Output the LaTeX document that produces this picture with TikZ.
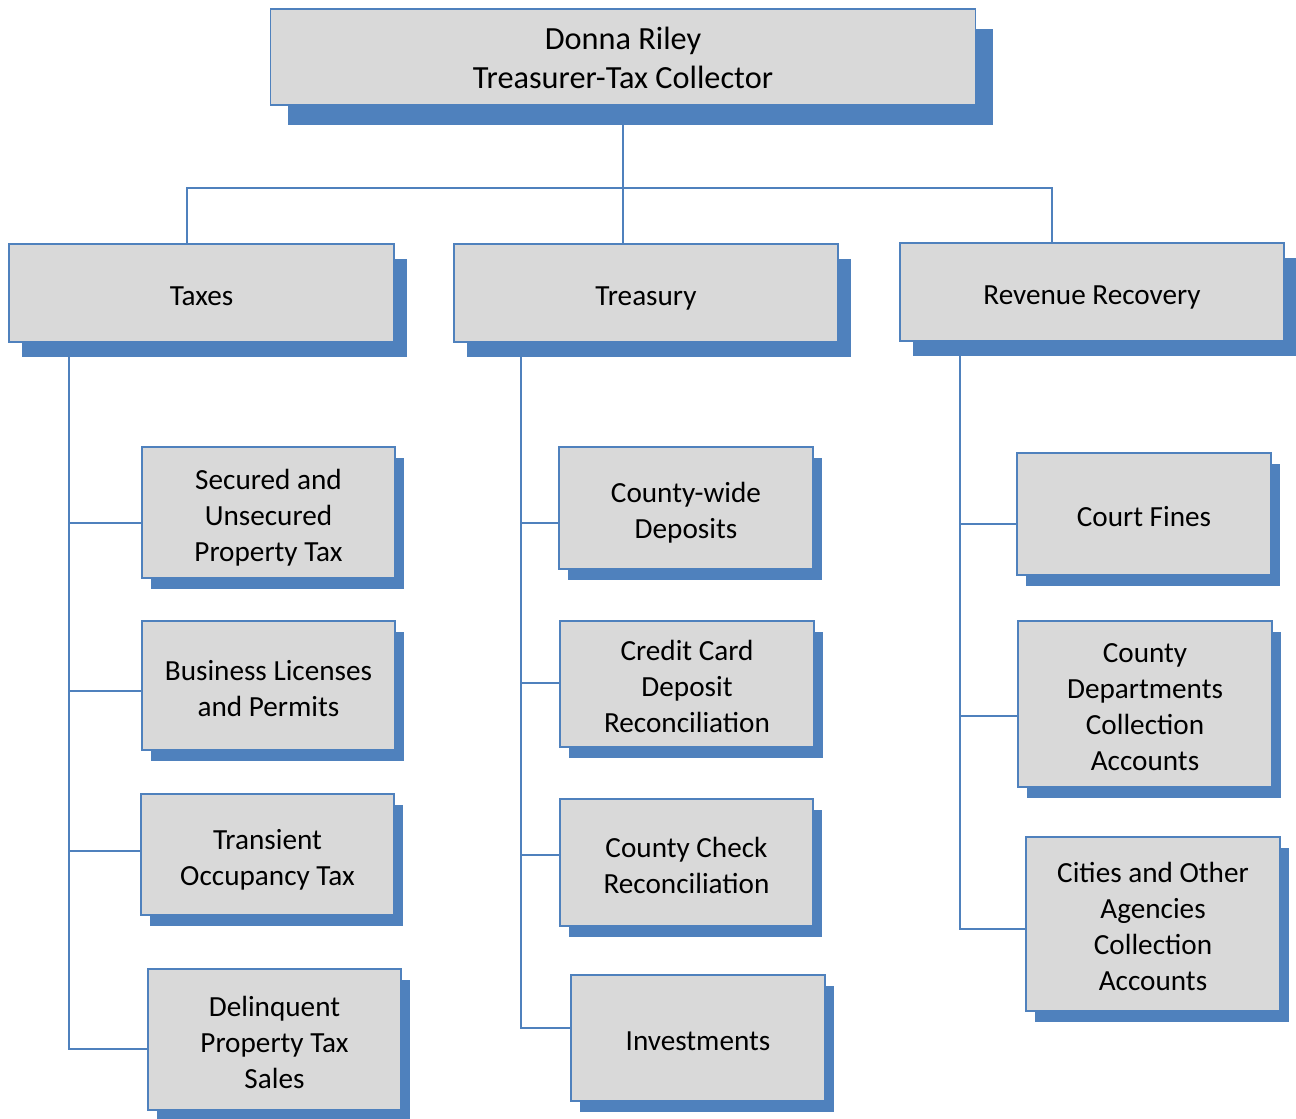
\documentclass[tikz,border=0pt]{standalone}
\usepackage{fontspec}
\setmainfont{Carlito}
\usetikzlibrary{shadows}
\definecolor{boxblue}{HTML}{4F81BD}
\definecolor{boxgray}{HTML}{D9D9D9}
\newcommand\tstr{\rule{0pt}{33pt}}
\newcommand\ttstr{\rule{0pt}{31pt}}
\newcommand\bstr{\rule[-8pt]{0pt}{8pt}}
\begin{document}
\begin{tikzpicture}[x=1pt,y=-1pt,
  conn/.style={draw=boxblue,line width=1.6pt},
  box/.style={draw=boxblue,fill=boxgray,line width=1.3pt,inner sep=0pt,align=center,
    font=\fontsize{29.2}{36}\selectfont},
  topbox/.style={box,font=\fontsize{32.3}{39}\selectfont,
    general shadow={fill=boxblue,shadow xshift=17.5pt,shadow yshift=-20pt}},
  midbox/.style={box,general shadow={fill=boxblue,shadow xshift=12.5pt,shadow yshift=-14.5pt}},
  leafbox/.style={box,general shadow={fill=boxblue,shadow xshift=9pt,shadow yshift=-11pt}}
]
\useasboundingbox (0,0) rectangle (1296,1119);

% top
\node[topbox,minimum width=705pt,minimum height=96pt] (top) at (623,57) {\ttstr Donna Riley\\Treasurer-Tax Collector\bstr};

% second level
\node[midbox,minimum width=385pt,minimum height=98pt] (taxes) at (201.5,293) {\tstr Taxes\bstr};
\node[midbox,minimum width=384pt,minimum height=98pt] (treas) at (646,293) {\tstr Treasury\bstr};
\node[midbox,minimum width=384pt,minimum height=98pt] (rev) at (1092,292) {\tstr Revenue Recovery\bstr};

% taxes children
\node[leafbox,minimum width=253pt,minimum height=131pt] (t1) at (268.5,512.5) {\tstr Secured and\\Unsecured\\Property Tax\bstr};
\node[leafbox,minimum width=253pt,minimum height=129pt] (t2) at (268.5,685.5) {\tstr Business Licenses\\and Permits\bstr};
\node[leafbox,minimum width=253pt,minimum height=121pt] (t3) at (267.5,854.5) {\tstr Transient\\Occupancy Tax\bstr};
\node[leafbox,minimum width=253pt,minimum height=141pt] (t4) at (274.5,1039.5) {\tstr Delinquent\\Property Tax\\Sales\bstr};

% treasury children
\node[leafbox,minimum width=254pt,minimum height=122pt] (s1) at (686,508) {\tstr County-wide\\Deposits\bstr};
\node[leafbox,minimum width=254pt,minimum height=126pt] (s2) at (687,684) {\tstr Credit Card\\Deposit\\Reconciliation\bstr};
\node[leafbox,minimum width=253pt,minimum height=127pt] (s3) at (686.5,862.5) {\tstr County Check\\Reconciliation\bstr};
\node[leafbox,minimum width=254pt,minimum height=126pt] (s4) at (698,1038) {\tstr Investments\bstr};

% revenue recovery children
\node[leafbox,minimum width=254pt,minimum height=122pt] (v1) at (1144,514) {\tstr Court Fines\bstr};
\node[leafbox,minimum width=254pt,minimum height=166pt] (v2) at (1145,704) {\tstr County\\Departments\\Collection\\Accounts\bstr};
\node[leafbox,minimum width=254pt,minimum height=174pt] (v3) at (1153,924) {\tstr Cities and Other\\Agencies\\Collection\\Accounts\bstr};

% bus from top
\coordinate (busL) at (187,188);
\coordinate (busR) at (1052,188);
\draw[conn] (top.south) -- (top.south |- treas.north);
\draw[conn] (busL |- taxes.north) -- (busL) -- (busR) -- (busR |- rev.north);

% taxes spine
\coordinate (ta1) at (69,523);
\coordinate (ta2) at (69,691);
\coordinate (ta3) at (69,851);
\coordinate (ta4) at (69,1049);
\draw[conn] (ta4 |- taxes.south) -- (ta4) -- (ta4 -| t4.west);
\draw[conn] (ta1) -- (ta1 -| t1.west);
\draw[conn] (ta2) -- (ta2 -| t2.west);
\draw[conn] (ta3) -- (ta3 -| t3.west);

% treasury spine
\coordinate (sa1) at (521,523);
\coordinate (sa2) at (521,683);
\coordinate (sa3) at (521,855);
\coordinate (sa4) at (521,1028);
\draw[conn] (sa4 |- treas.south) -- (sa4) -- (sa4 -| s4.west);
\draw[conn] (sa1) -- (sa1 -| s1.west);
\draw[conn] (sa2) -- (sa2 -| s2.west);
\draw[conn] (sa3) -- (sa3 -| s3.west);

% revenue spine
\coordinate (va1) at (960,524);
\coordinate (va2) at (960,716);
\coordinate (va3) at (960,929);
\draw[conn] (va3 |- rev.south) -- (va3) -- (va3 -| v3.west);
\draw[conn] (va1) -- (va1 -| v1.west);
\draw[conn] (va2) -- (va2 -| v2.west);
\end{tikzpicture}
\end{document}
